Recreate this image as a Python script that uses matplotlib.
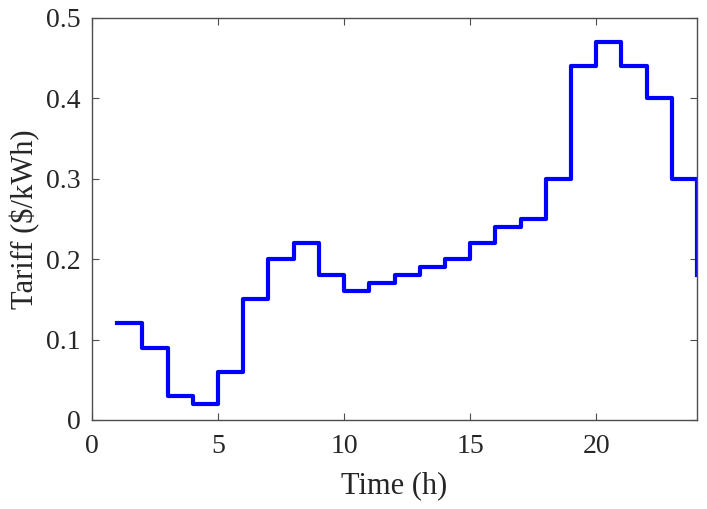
import matplotlib as mpl
import matplotlib.pyplot as plt
import numpy as np

mpl.rcParams.update({
    "font.family": ["Liberation Serif", "DejaVu Serif"],
    "axes.edgecolor": "0.3",
    "axes.linewidth": 1.0,
    "xtick.color": "0.3",
    "ytick.color": "0.3",
    "xtick.labelcolor": "0.15",
    "ytick.labelcolor": "0.15",
})

# hourly tariff ($/kWh), stairs starting at hour 1
hours = np.arange(1, 25)
tariff = [0.12, 0.09, 0.03, 0.02, 0.06, 0.15, 0.20, 0.22, 0.18, 0.16,
          0.17, 0.18, 0.19, 0.20, 0.22, 0.24, 0.25, 0.30, 0.44, 0.47,
          0.44, 0.40, 0.30, 0.18]

fig = plt.figure(figsize=(7.07, 5.09), dpi=100)
ax = fig.add_axes([0.130, 0.175, 0.856, 0.790])

ax.step(hours, tariff, where="post", color="blue", lw=3.0)

ax.set_xlim(0, 24)
ax.set_ylim(0, 0.5)
ax.set_xticks([0, 5, 10, 15, 20])
ax.set_yticks([0, 0.1, 0.2, 0.3, 0.4, 0.5])
ax.set_yticklabels(["0", "0.1", "0.2", "0.3", "0.4", "0.5"])
ax.tick_params(direction="in", top=True, right=True, length=5,
               labelsize=20)
ax.tick_params(axis="x", pad=10)
ax.tick_params(axis="y", pad=8)

ax.set_xlabel("Time (h)", fontsize=22, color="0.15", labelpad=9)
ax.set_ylabel("Tariff (\\$/kWh)", fontsize=22, color="0.15", labelpad=4)

fig.savefig("out.png", dpi=100)
